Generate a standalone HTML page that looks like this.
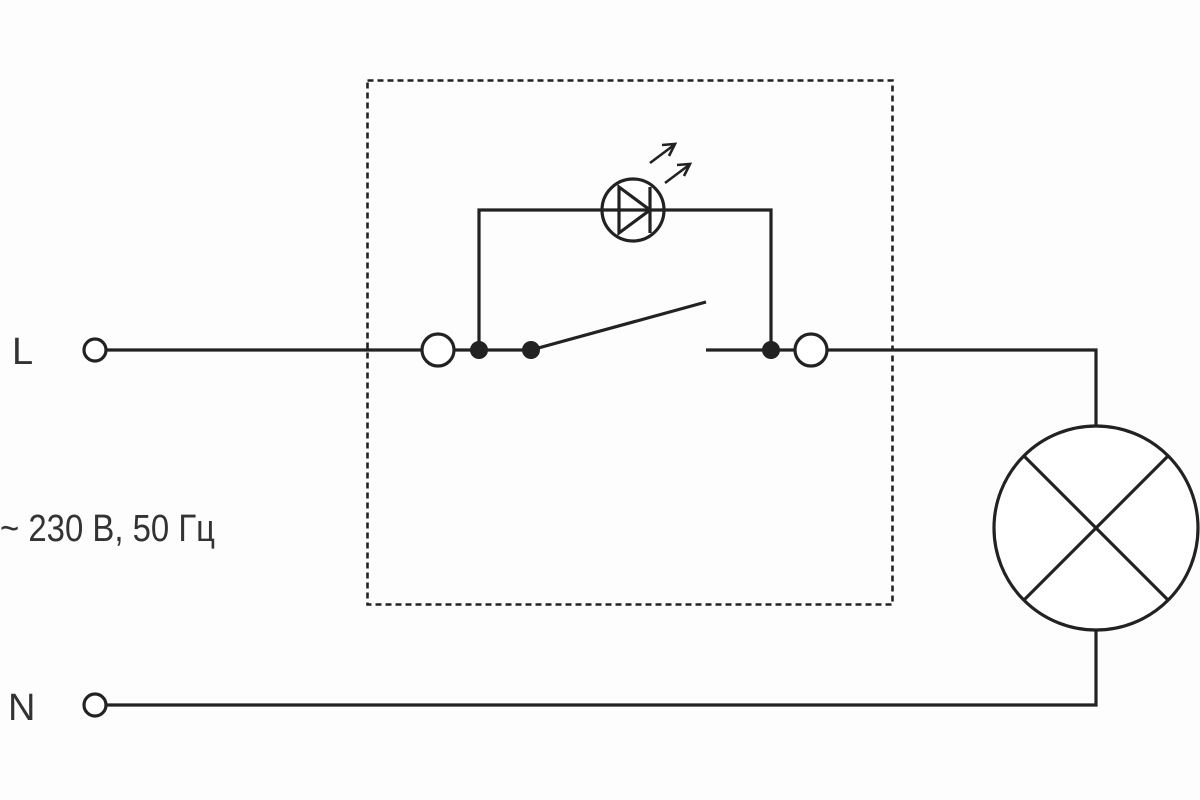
<!DOCTYPE html>
<html><head><meta charset="utf-8"><style>
html,body{margin:0;padding:0;background:#fdfdfd;}
svg{display:block}
text{font-family:"Liberation Sans","DejaVu Sans",sans-serif;fill:#333;font-weight:300}
</style></head><body>
<svg width="1200" height="800" viewBox="0 0 1200 800" xmlns="http://www.w3.org/2000/svg">
<rect width="1200" height="800" fill="#fdfdfd"/>
<g stroke="#222" stroke-width="3.2" fill="none">
<rect x="367.5" y="80.5" width="525" height="524" stroke-dasharray="6,4" stroke-width="2.6"/>
<line x1="106" y1="350" x2="422" y2="350"/>
<line x1="454" y1="350" x2="531" y2="350"/>
<line x1="531" y1="350" x2="706" y2="302"/>
<line x1="706" y1="350" x2="795" y2="350"/>
<polyline points="479,350 479,210 602,210"/>
<polyline points="664,210 771,210 771,350"/>
<polyline points="827,350 1096,350 1096,426"/>
<polyline points="1096,630 1096,705 106,705"/>
<circle cx="95" cy="350" r="11" fill="#fff"/>
<circle cx="95" cy="705" r="11" fill="#fff"/>
<circle cx="438" cy="350" r="16" fill="#fff"/>
<circle cx="811" cy="350" r="16" fill="#fff"/>
<circle cx="633" cy="210" r="31" fill="#fff"/>
<polygon points="619,187 619,233 650,210"/>
<line x1="602" y1="210" x2="664" y2="210"/>
<line x1="650" y1="187" x2="650" y2="233"/>
<line x1="650" y1="163" x2="674" y2="145" stroke-width="2.6"/>
<polyline points="662,145 675,144 669,156" stroke-width="2.6"/>
<line x1="665" y1="183" x2="689" y2="165" stroke-width="2.6"/>
<polyline points="677,165 690,164 684,176" stroke-width="2.6"/>
<circle cx="1096" cy="528" r="102" fill="#fff"/>
<line x1="1024" y1="456" x2="1168" y2="600"/>
<line x1="1168" y1="456" x2="1024" y2="600"/>
</g>
<g fill="#222">
<circle cx="479" cy="350" r="9"/>
<circle cx="531" cy="350" r="9"/>
<circle cx="771" cy="350" r="9"/>
</g>
<text x="12" y="364" font-size="38">L</text>
<text x="8" y="720" font-size="38">N</text>
<text x="0" y="541" font-size="38" textLength="215" lengthAdjust="spacingAndGlyphs">~ 230 В, 50 Гц</text>
</svg>
</body></html>
